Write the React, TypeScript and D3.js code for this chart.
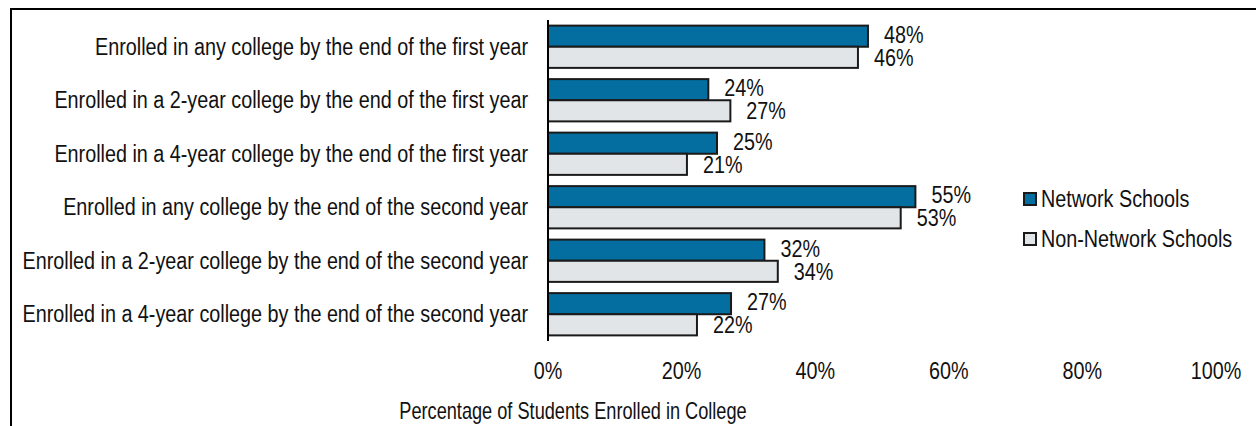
import React from "react";
import * as d3 from "d3";

const categories = [
  "Enrolled in any college by the end of the first year",
  "Enrolled in a 2-year college by the end of the first year",
  "Enrolled in a 4-year college by the end of the first year",
  "Enrolled in any college by the end of the second year",
  "Enrolled in a 2-year college by the end of the second year",
  "Enrolled in a 4-year college by the end of the second year",
];
const networkSchools = [47.9, 24.0, 25.3, 55.0, 32.4, 27.4];
const nonNetworkSchools = [46.4, 27.3, 20.8, 52.8, 34.4, 22.3];
const xTicks = [0, 20, 40, 60, 80, 100];
const seriesNames = ["Network Schools", "Non-Network Schools"];
const seriesColors = ["#046ea0", "#e2e5e8"];

const W = 1256;
const H = 426;
const FONT = "'Liberation Sans', Arial, Helvetica, sans-serif";
const FS = 23;
const SX = 0.86;

function T({ x, y, anchor = "start", children, size = FS, sx = SX }: any) {
  return (
    <text
      transform={`translate(${x},${y}) scale(${sx},1)`}
      textAnchor={anchor}
      fontFamily={FONT}
      fontSize={size}
      fill="#111"
    >
      {children}
    </text>
  );
}

export default function App() {
  const x = d3.scaleLinear().domain([0, 100]).range([548, 1216]);
  const y = d3
    .scaleBand<number>()
    .domain(d3.range(categories.length))
    .range([20, 341])
    .paddingInner(0.21)
    .paddingOuter(0.105);
  const sub = d3
    .scaleBand<number>()
    .domain([0, 1])
    .range([0, y.bandwidth()]);
  const series = [networkSchools, nonNetworkSchools];
  const labelDy = [6.5, 8.5];

  return (
    <div style={{ position: "fixed", left: 0, top: 0 }}>
      <svg width={W} height={H} style={{ display: "block", background: "#fff" }}>
        <rect x={11} y={9} width={1400} height={600} fill="none" stroke="#000" strokeWidth={2} />
        {categories.map((c, i) => (
          <T key={c} x={528} y={(y(i) as number) + y.bandwidth() / 2 + 8} anchor="end">
            {c}
          </T>
        ))}
        {series.map((vals, s) =>
          vals.map((v, i) => {
            const by = (y(i) as number) + (sub(s) as number);
            const bh = sub.bandwidth();
            return (
              <g key={`${s}-${i}`}>
                <rect
                  x={x(0)}
                  y={by}
                  width={x(v) - x(0)}
                  height={bh}
                  fill={seriesColors[s]}
                  stroke="#1a1a1a"
                  strokeWidth={2}
                />
                <T x={x(v) + 16} y={by + bh / 2 + labelDy[s]}>
                  {`${Math.round(v)}%`}
                </T>
              </g>
            );
          })
        )}
        <line x1={548} x2={548} y1={20} y2={341} stroke="#000" strokeWidth={2} />
        {xTicks.map((t) => (
          <T key={t} x={x(t)} y={379} anchor="middle">
            {`${t}%`}
          </T>
        ))}
        <T x={573} y={419} anchor="middle" sx={0.79}>
          Percentage of Students Enrolled in College
        </T>
        {seriesNames.map((n, s) => (
          <g key={n}>
            <rect
              x={1024}
              y={193 + s * 40}
              width={12}
              height={12}
              fill={seriesColors[s]}
              stroke="#1a1a1a"
              strokeWidth={2}
            />
            <T x={1041} y={207 + s * 40}>
              {n}
            </T>
          </g>
        ))}
      </svg>
    </div>
  );
}
